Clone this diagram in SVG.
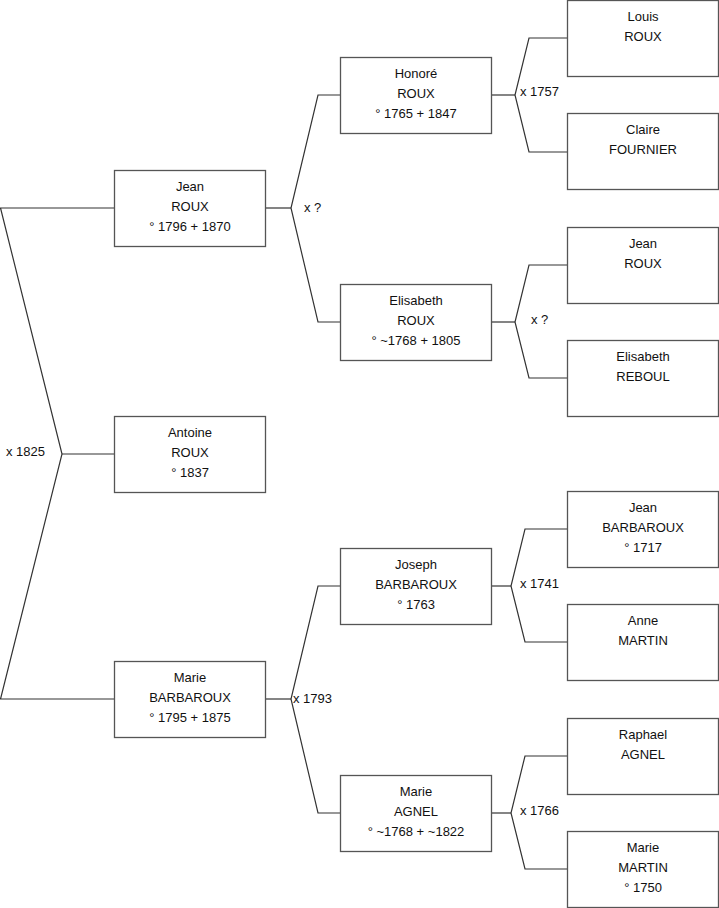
<svg xmlns="http://www.w3.org/2000/svg" width="719" height="908" viewBox="0 0 719 908">
<style>
.box{fill:#fff;stroke:#555;stroke-width:1.3}
.ln{fill:none;stroke:#333;stroke-width:1.2}
text{font-family:"Liberation Sans",Arial,sans-serif;font-size:13px;fill:#111}
.c{text-anchor:middle}
</style>
<rect width="719" height="908" fill="#fff"/>
<g id="connectors">
<polyline class="ln" points="114,208 0.5,208 62,454 0.5,699 114,699"/>
<line class="ln" x1="62" y1="454" x2="114" y2="454"/>
<text x="6" y="456">x 1825</text>
<polyline class="ln" points="340,95 318,95 291,208 318,322 340,322"/>
<line class="ln" x1="265" y1="208" x2="291" y2="208"/>
<text x="304" y="212">x ?</text>
<polyline class="ln" points="340,586 318,586 291,699 318,813 340,813"/>
<line class="ln" x1="265" y1="699" x2="291" y2="699"/>
<text x="293" y="703">x 1793</text>
<polyline class="ln" points="567,38 529,38 515,95 529,152 567,152"/>
<line class="ln" x1="492" y1="95" x2="515" y2="95"/>
<text x="520" y="96">x 1757</text>
<polyline class="ln" points="567,265 529,265 515,322 529,378 567,378"/>
<line class="ln" x1="492" y1="322" x2="515" y2="322"/>
<text x="531" y="324">x ?</text>
<polyline class="ln" points="567,529 525,529 511,586 525,642 567,642"/>
<line class="ln" x1="492" y1="586" x2="511" y2="586"/>
<text x="520" y="588">x 1741</text>
<polyline class="ln" points="567,756 525,756 511,813 525,869 567,869"/>
<line class="ln" x1="492" y1="813" x2="511" y2="813"/>
<text x="520" y="815">x 1766</text>
</g>
<g id="jean1"><rect class="box" x="114.5" y="170.5" width="151" height="76"/><text class="c" x="190" y="191">Jean</text><text class="c" x="190" y="211">ROUX</text><text class="c" x="190" y="231">° 1796 + 1870</text></g>
<g id="antoine"><rect class="box" x="114.5" y="416.5" width="151" height="76"/><text class="c" x="190" y="437">Antoine</text><text class="c" x="190" y="457">ROUX</text><text class="c" x="190" y="477">° 1837</text></g>
<g id="marie1"><rect class="box" x="114.5" y="661.5" width="151" height="76"/><text class="c" x="190" y="682">Marie</text><text class="c" x="190" y="702">BARBAROUX</text><text class="c" x="190" y="722">° 1795 + 1875</text></g>
<g id="honore"><rect class="box" x="340.5" y="57.5" width="151" height="76"/><text class="c" x="416" y="78">Honoré</text><text class="c" x="416" y="98">ROUX</text><text class="c" x="416" y="118">° 1765 + 1847</text></g>
<g id="elisabeth2"><rect class="box" x="340.5" y="284.5" width="151" height="76"/><text class="c" x="416" y="305">Elisabeth</text><text class="c" x="416" y="325">ROUX</text><text class="c" x="416" y="345">° ~1768 + 1805</text></g>
<g id="joseph"><rect class="box" x="340.5" y="548.5" width="151" height="76"/><text class="c" x="416" y="569">Joseph</text><text class="c" x="416" y="589">BARBAROUX</text><text class="c" x="416" y="609">° 1763</text></g>
<g id="marie2"><rect class="box" x="340.5" y="775.5" width="151" height="76"/><text class="c" x="416" y="796">Marie</text><text class="c" x="416" y="816">AGNEL</text><text class="c" x="416" y="836">° ~1768 + ~1822</text></g>
<g id="louis"><rect class="box" x="567.5" y="0.5" width="151" height="76"/><text class="c" x="643" y="21">Louis</text><text class="c" x="643" y="41">ROUX</text></g>
<g id="claire"><rect class="box" x="567.5" y="113.5" width="151" height="76"/><text class="c" x="643" y="134">Claire</text><text class="c" x="643" y="154">FOURNIER</text></g>
<g id="jean3"><rect class="box" x="567.5" y="227.5" width="151" height="76"/><text class="c" x="643" y="248">Jean</text><text class="c" x="643" y="268">ROUX</text></g>
<g id="elisabeth3"><rect class="box" x="567.5" y="340.5" width="151" height="76"/><text class="c" x="643" y="361">Elisabeth</text><text class="c" x="643" y="381">REBOUL</text></g>
<g id="jeanb"><rect class="box" x="567.5" y="491.5" width="151" height="76"/><text class="c" x="643" y="512">Jean</text><text class="c" x="643" y="532">BARBAROUX</text><text class="c" x="643" y="552">° 1717</text></g>
<g id="anne"><rect class="box" x="567.5" y="604.5" width="151" height="76"/><text class="c" x="643" y="625">Anne</text><text class="c" x="643" y="645">MARTIN</text></g>
<g id="raphael"><rect class="box" x="567.5" y="718.5" width="151" height="76"/><text class="c" x="643" y="739">Raphael</text><text class="c" x="643" y="759">AGNEL</text></g>
<g id="mariem"><rect class="box" x="567.5" y="831.5" width="151" height="76"/><text class="c" x="643" y="852">Marie</text><text class="c" x="643" y="872">MARTIN</text><text class="c" x="643" y="892">° 1750</text></g>
</svg>
